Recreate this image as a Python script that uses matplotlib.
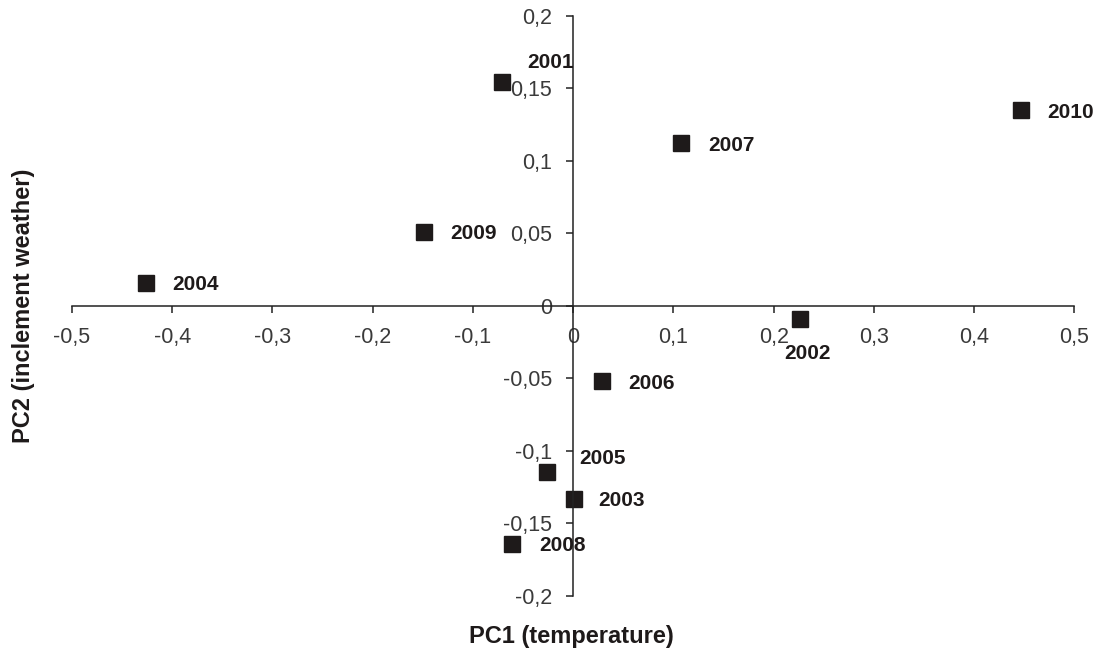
import matplotlib
matplotlib.use('Agg')
import matplotlib.pyplot as plt

# PCA scores per year
years = ['2001', '2002', '2003', '2004', '2005', '2006', '2007', '2008', '2009', '2010']
pc1 = [-0.071, 0.226, 0.001, -0.426, -0.026, 0.029, 0.108, -0.061, -0.149, 0.447]
pc2 = [0.154, -0.009, -0.133, 0.016, -0.115, -0.052, 0.112, -0.164, 0.051, 0.135]

xticks = [-0.5, -0.4, -0.3, -0.2, -0.1, 0, 0.1, 0.2, 0.3, 0.4, 0.5]
xtick_labels = ['-0,5', '-0,4', '-0,3', '-0,2', '-0,1', '0', '0,1', '0,2', '0,3', '0,4', '0,5']
yticks = [-0.2, -0.15, -0.1, -0.05, 0, 0.05, 0.1, 0.15, 0.2]
ytick_labels = ['-0,2', '-0,15', '-0,1', '-0,05', '0', '0,05', '0,1', '0,15', '0,2']

# label placement (pixels from marker centre: left edge, vertical centre)
label_offsets = [(25, 22), (-15, -33), (24, 0), (26, 0), (32, 16),
                 (26, 0), (27, 0), (27, 0), (26, 0), (26, -1)]

plt.rcParams['font.family'] = ['Liberation Sans', 'DejaVu Sans']

fig = plt.figure(figsize=(11.03, 6.53), dpi=100)
ax = fig.add_axes([0.0653, 0.0877, 0.9087, 0.8882])

ax.plot(pc1, pc2, linestyle='none', marker='s', markersize=11.5, color='#1e1a1a')

for yr, x, y, (dx, dy) in zip(years, pc1, pc2, label_offsets):
    ax.annotate(yr, (x, y), xytext=(dx, dy - 7.5), textcoords='offset pixels',
                ha='left', va='baseline', fontsize=15, fontweight='bold', color='#1e1a1a')

ax.set_xlim(-0.5, 0.5)
ax.set_ylim(-0.2, 0.2)
ax.spines['left'].set_position('zero')
ax.spines['bottom'].set_position('zero')
ax.spines['top'].set_visible(False)
ax.spines['right'].set_visible(False)
for s in ['left', 'bottom']:
    ax.spines[s].set_linewidth(1.1)
    ax.spines[s].set_color('#222222')

ax.set_xticks(xticks, xtick_labels)
ax.set_yticks(yticks, ytick_labels)
ax.tick_params(axis='both', direction='out', length=5, width=1.1, color='#222222',
               labelsize=15.5, labelcolor='#3a3a3a', pad=10)
ax.patch.set_visible(False)

fig.text(0.518, 0.026, 'PC1 (temperature)', ha='center', va='center',
         fontsize=17, fontweight='bold', color='#1e1a1a')
fig.text(0.021, 0.531, 'PC2 (inclement weather)', ha='center', va='center',
         rotation=90, fontsize=17, fontweight='bold', color='#1e1a1a')

fig.savefig('out.png', dpi=100)
